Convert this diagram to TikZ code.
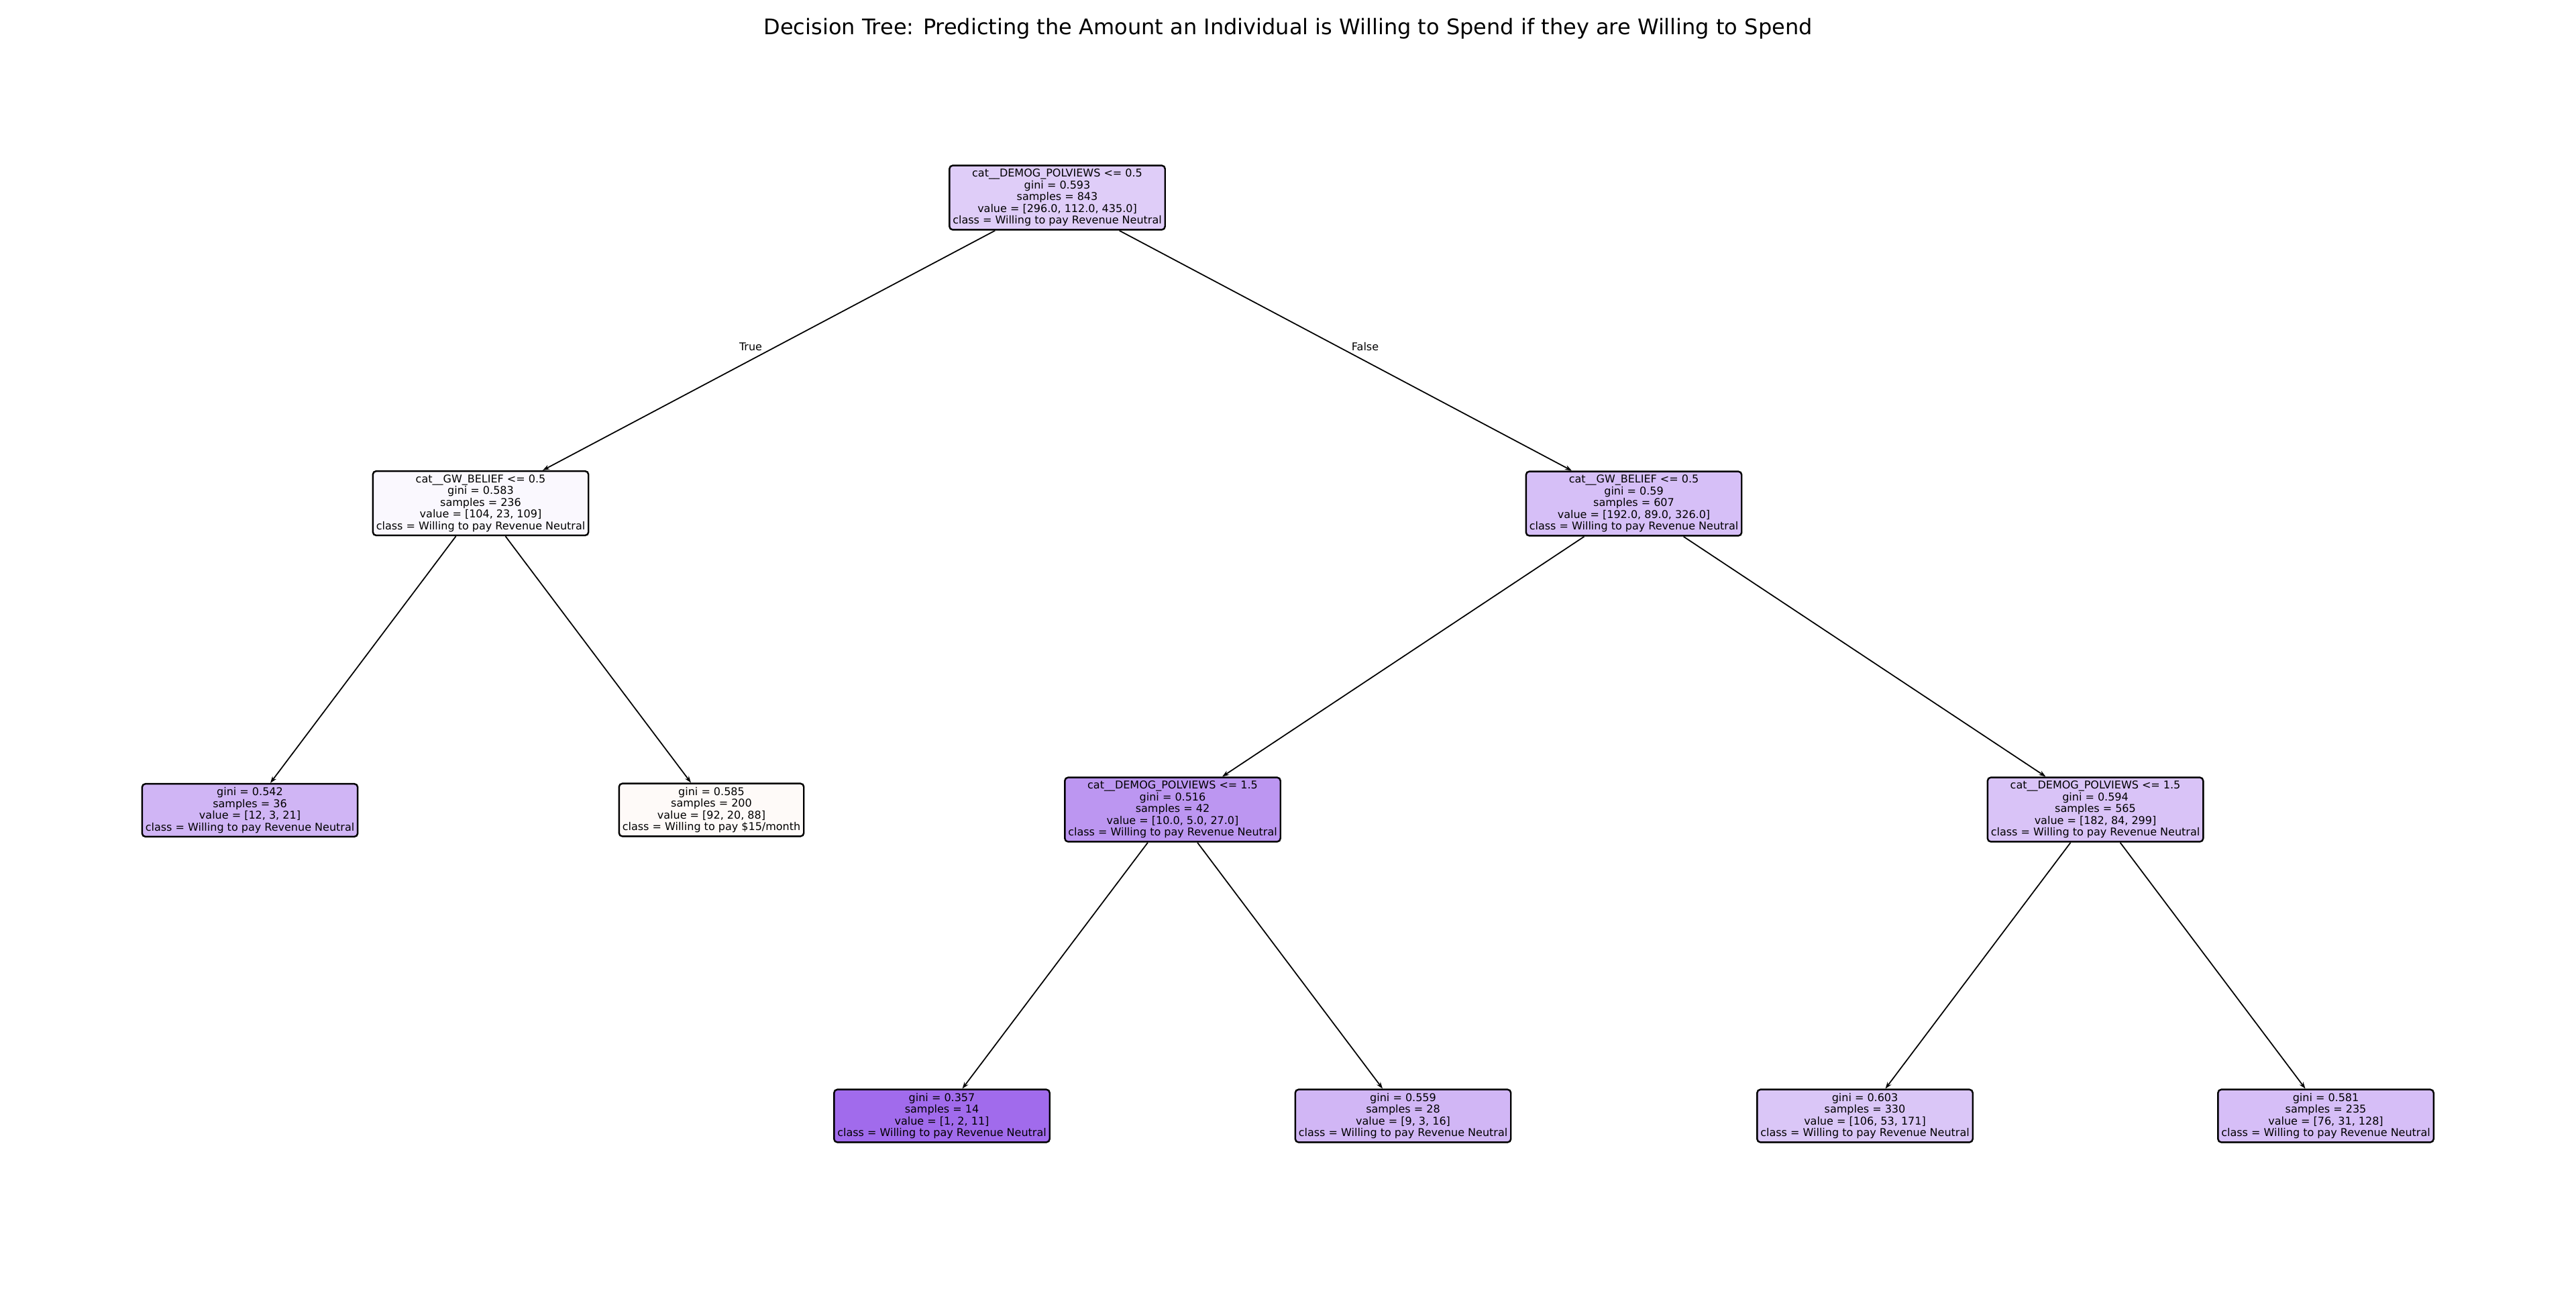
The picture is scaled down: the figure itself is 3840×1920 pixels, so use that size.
\documentclass[tikz,border=0pt]{standalone}
\usepackage{fontspec}
\setmainfont{DejaVu Sans}
\usetikzlibrary{arrows.meta}
\definecolor{c0}{RGB}{223,205,248}
\definecolor{c1}{RGB}{250,248,254}
\definecolor{c2}{RGB}{214,191,247}
\definecolor{c3}{RGB}{208,181,245}
\definecolor{c4}{RGB}{254,250,248}
\definecolor{c5}{RGB}{188,150,241}
\definecolor{c6}{RGB}{217,195,247}
\definecolor{c7}{RGB}{161,107,236}
\definecolor{c8}{RGB}{209,182,245}
\definecolor{c9}{RGB}{218,198,247}
\definecolor{c10}{RGB}{214,190,247}
\tikzset{
  tnode/.style={draw=black, line width=0.7pt, rounded corners=0.05cm, align=center,
    inner xsep=0.05cm, inner ysep=0.055cm, font=\fontsize{4.55}{4.95}\selectfont},
  edge/.style={line width=0.5pt, -{Stealth[length=0.1cm,width=0.07cm]}},
  elabel/.style={font=\fontsize{4.55}{4.95}\selectfont},
}
\begin{document}
\begin{tikzpicture}[x=0.01cm,y=-0.01cm]
\useasboundingbox (0,0) rectangle (3840,1920);
\node[font=\fontsize{9.1}{11}\selectfont] (title) at (1920,43) {Decision Tree: Predicting the Amount an Individual is Willing to Spend if they are Willing to Spend};
\node[tnode, fill=c0] (n0) at (1576,294.5) {cat\_\_DEMOG\_POLVIEWS <= 0.5\\gini = 0.593\\samples = 843\\value = [296.0, 112.0, 435.0]\\class = Willing to pay Revenue Neutral};
\node[tnode, fill=c1] (n1) at (716.5,750) {cat\_\_GW\_BELIEF <= 0.5\\gini = 0.583\\samples = 236\\value = [104, 23, 109]\\class = Willing to pay Revenue Neutral};
\node[tnode, fill=c2] (n2) at (2435.5,750.5) {cat\_\_GW\_BELIEF <= 0.5\\gini = 0.59\\samples = 607\\value = [192.0, 89.0, 326.0]\\class = Willing to pay Revenue Neutral};
\node[tnode, fill=c3] (n3) at (372.5,1207.5) {gini = 0.542\\samples = 36\\value = [12, 3, 21]\\class = Willing to pay Revenue Neutral};
\node[tnode, fill=c4] (n4) at (1060.5,1207) {gini = 0.585\\samples = 200\\value = [92, 20, 88]\\class = Willing to pay \$15/month};
\node[tnode, fill=c5] (n5) at (1748,1206.5) {cat\_\_DEMOG\_POLVIEWS <= 1.5\\gini = 0.516\\samples = 42\\value = [10.0, 5.0, 27.0]\\class = Willing to pay Revenue Neutral};
\node[tnode, fill=c6] (n6) at (3123.5,1206.5) {cat\_\_DEMOG\_POLVIEWS <= 1.5\\gini = 0.594\\samples = 565\\value = [182, 84, 299]\\class = Willing to pay Revenue Neutral};
\node[tnode, fill=c7] (n7) at (1404,1663) {gini = 0.357\\samples = 14\\value = [1, 2, 11]\\class = Willing to pay Revenue Neutral};
\node[tnode, fill=c8] (n8) at (2091.5,1663) {gini = 0.559\\samples = 28\\value = [9, 3, 16]\\class = Willing to pay Revenue Neutral};
\node[tnode, fill=c9] (n9) at (2780,1663) {gini = 0.603\\samples = 330\\value = [106, 53, 171]\\class = Willing to pay Revenue Neutral};
\node[tnode, fill=c10] (n10) at (3467,1663) {gini = 0.581\\samples = 235\\value = [76, 31, 128]\\class = Willing to pay Revenue Neutral};
\draw[edge] (n0) -- (n1);
\draw[edge] (n0) -- (n2);
\draw[edge] (n1) -- (n3);
\draw[edge] (n1) -- (n4);
\draw[edge] (n2) -- (n5);
\draw[edge] (n2) -- (n6);
\draw[edge] (n5) -- (n7);
\draw[edge] (n5) -- (n8);
\draw[edge] (n6) -- (n9);
\draw[edge] (n6) -- (n10);
\node[elabel] (tlab) at (1119,517) {True};
\node[elabel] (flab) at (2035,517) {False};
\end{tikzpicture}
\end{document}
